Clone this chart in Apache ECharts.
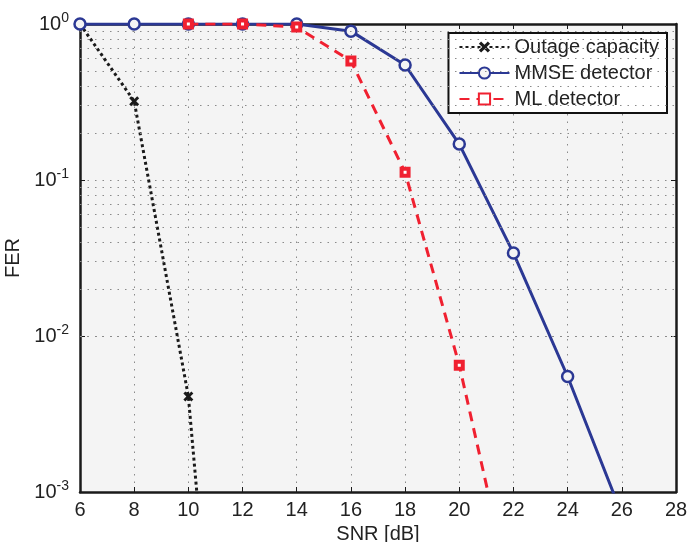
<!DOCTYPE html>
<html>
<head>
<meta charset="utf-8">
<script src="https://cdn.jsdelivr.net/npm/echarts@6/dist/echarts.min.js"></script>
<style>
  html, body { margin: 0; padding: 0; background: #fff; }
  #chart { width: 688px; height: 542px; }
</style>
</head>
<body>
<div id="chart"></div>
<script>
// SNR grid points [dB]
const snrOutage = [6, 8, 10, 12];
const ferOutage = [1, 0.32, 0.0041, 4.7e-7];

const snrMmse = [6, 8, 10, 12, 14, 16, 18, 20, 22, 24, 26];
const ferMmse = [1, 1, 1, 1, 1, 0.9, 0.546, 0.17, 0.034, 0.0055, 0.00072];

const snrMl = [10, 12, 14, 16, 18, 20, 22];
const ferMl = [1, 1, 0.955, 0.58, 0.112, 0.0065, 0.00019];

const yTickValues = [1, 0.1, 0.01, 0.001];
const yTickExps = ['0', '-1', '-2', '-3'];
const yMinorValues = [];
[0.001, 0.01, 0.1].forEach(d => {
  for (let k = 2; k <= 9; k++) yMinorValues.push(+(d * k).toPrecision(3));
});

const FONT = 'Liberation Sans';
const TXT = '#222';
const BLUE = '#2b3894';
const RED = '#f02030';
const GRIDC = '#8a8a8a';

const chart = echarts.init(document.getElementById('chart'));

const pair = (xs, ys) => xs.map((x, i) => [x, ys[i]]);

const crossPath = 'path://M2,0L5,3L8,0L10,2L7,5L10,8L8,10L5,7L2,10L0,8L3,5L0,2Z';

const option = {
  animation: false,
  backgroundColor: '#fff',
  textStyle: { fontFamily: FONT },
  grid: {
    left: 80, right: 12, top: 24, bottom: 50,
    outerBoundsMode: 'none',
    containLabel: false,
    show: true, backgroundColor: '#f4f4f4', borderWidth: 0
  },
  legend: {
    orient: 'vertical',
    right: 21,
    top: 33,
    backgroundColor: '#fff',
    borderColor: '#111',
    borderWidth: 2,
    padding: [4, 8, 4, 10],
    itemWidth: 50,
    itemHeight: 14,
    itemGap: 6,
    textStyle: { fontFamily: FONT, fontSize: 20, color: TXT },
    data: ['Outage capacity', 'MMSE detector', 'ML detector']
  },
  xAxis: [{
    type: 'value',
    min: 6,
    max: 28,
    interval: 2,
    name: 'SNR [dB]',
    nameLocation: 'middle',
    nameGap: 32,
    nameTextStyle: { fontFamily: FONT, fontSize: 20, color: TXT },
    axisLine: { lineStyle: { color: '#1a1a1a', width: 2.5 } },
    axisTick: { inside: true, length: 5, lineStyle: { color: '#1a1a1a', width: 1 } },
    axisLabel: { fontFamily: FONT, fontSize: 20, color: TXT, margin: 8 },
    splitLine: { show: true, lineStyle: { color: GRIDC, width: 1, type: [1.5, 6] } }
  }, {
    type: 'value',
    position: 'top',
    min: 6,
    max: 28,
    interval: 2,
    axisLine: { lineStyle: { color: '#1a1a1a', width: 2.5 } },
    axisTick: { inside: true, length: 5, lineStyle: { color: '#1a1a1a', width: 1 } },
    axisLabel: { show: false },
    splitLine: { show: false }
  }],
  yAxis: [{
    type: 'log',
    logBase: 10,
    min: 0.001,
    max: 1,
    name: 'FER',
    nameLocation: 'middle',
    nameGap: 50,
    nameTextStyle: { fontFamily: FONT, fontSize: 20, color: TXT },
    axisLine: { lineStyle: { color: '#1a1a1a', width: 2.5 } },
    axisTick: { inside: true, length: 5, lineStyle: { color: '#1a1a1a', width: 1 } },
    axisLabel: {
      margin: 11,
      formatter: v => {
        const i = yTickValues.findIndex(t => Math.abs(Math.log10(t) - Math.log10(v)) < 1e-6);
        return '{b|10}{s|' + (i >= 0 ? yTickExps[i] : '') + '}';
      },
      rich: {
        b: { fontFamily: FONT, fontSize: 20, color: TXT },
        s: { fontFamily: FONT, fontSize: 14, color: TXT, verticalAlign: 'bottom', padding: [0, 0, 11, 0] }
      }
    },
    splitLine: { show: true, lineStyle: { color: GRIDC, width: 1, type: [1.5, 6] } }
  }, {
    type: 'log',
    logBase: 10,
    min: 0.001,
    max: 1,
    position: 'right',
    axisLine: { show: true, lineStyle: { color: '#1a1a1a', width: 2.5 } },
    axisTick: { show: true, inside: true, length: 5, lineStyle: { color: '#1a1a1a', width: 1 } },
    axisLabel: { show: false },
    splitLine: { show: false }
  }],
  series: [{
    name: 'minor',
    type: 'line',
    data: [],
    silent: true,
    markLine: {
      silent: true,
      symbol: 'none',
      label: { show: false },
      lineStyle: { color: GRIDC, width: 1, type: [1.5, 6] },
      data: yMinorValues.map(v => ({ yAxis: v }))
    }
  }, {
    name: 'Outage capacity',
    type: 'line',
    data: pair(snrOutage, ferOutage),
    clip: true,
    color: '#1a1a1a',
    symbol: crossPath,
    symbolSize: 10,
    lineStyle: { color: '#1a1a1a', width: 3, type: [3, 3] },
    itemStyle: { color: '#1a1a1a' },
    z: 3
  }, {
    name: 'MMSE detector',
    type: 'line',
    data: pair(snrMmse, ferMmse),
    clip: true,
    color: BLUE,
    symbol: 'circle',
    symbolSize: 11,
    lineStyle: { color: BLUE, width: 3 },
    itemStyle: { color: '#f4f4f4', borderColor: BLUE, borderWidth: 2.5 },
    z: 4
  }, {
    name: 'ML detector',
    type: 'line',
    data: pair(snrMl, ferMl),
    clip: true,
    color: RED,
    symbol: 'rect',
    symbolSize: 7,
    lineStyle: { color: RED, width: 3, type: [10, 7] },
    itemStyle: { color: '#fff', borderColor: RED, borderWidth: 4 },
    z: 5
  }]
};

chart.setOption(option);
</script>
</body>
</html>
